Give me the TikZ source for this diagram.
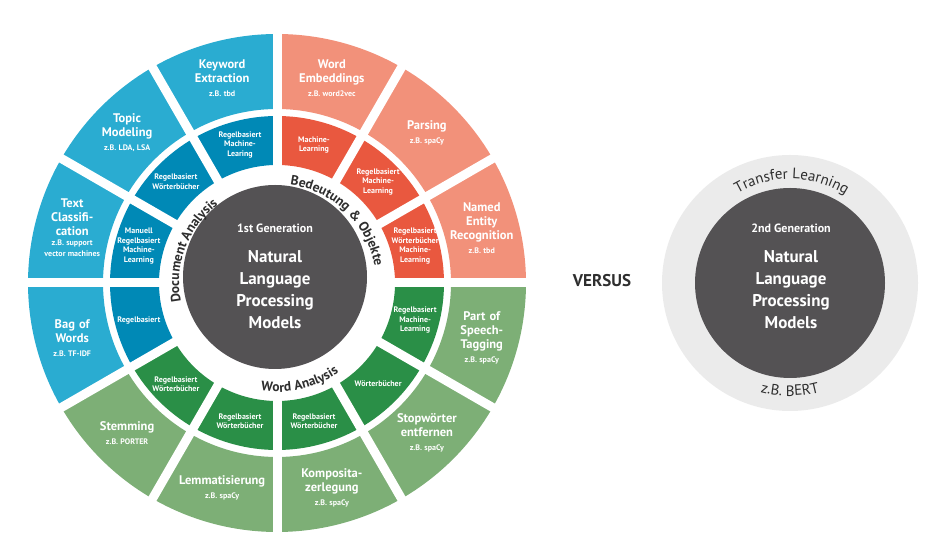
\documentclass[tikz,border=0pt]{standalone}
\usepackage{fontspec}
\setmainfont{PT Sans}
\usepackage{xcolor}
\usepackage{tikz}
\usetikzlibrary{decorations.text}
\definecolor{outdoc}{HTML}{2AACD1}
\definecolor{indoc}{HTML}{0089B6}
\definecolor{outsem}{HTML}{F2917A}
\definecolor{insem}{HTML}{E9583F}
\definecolor{outword}{HTML}{7DAF76}
\definecolor{inword}{HTML}{2A8F47}
\definecolor{corefill}{HTML}{545254}
\definecolor{halofill}{HTML}{EBEBEB}
\definecolor{arcgray}{HTML}{2E2E2E}
\tikzset{
  % --- ring cells: outer = tasks, inner = methods ---
  outerlbl/.style={text=white, align=center, text width=100pt, inner sep=0pt,
                   font=\fontsize{12.5}{14}\selectfont\bfseries},
  innerlbl/.style={text=white, align=center, text width=62pt, inner sep=0pt,
                   font=\fontsize{8}{9.5}\selectfont\bfseries},
  gapline/.style={draw=white, line width=9pt},
  % --- lettering that runs round a circle (size, weight, text) ---
  arclbl/.style n args={3}{decorate, decoration={text along path, text align=center,
                 text={|\fontsize{#1}{#1}\selectfont#2\color{arcgray}|#3}}},
  % --- the two model cores ---
  coretext/.style={text=white, align=center, inner sep=0pt,
                   font=\fontsize{17}{22}\selectfont\bfseries},
  genlbl/.style={text=white, inner sep=0pt, font=\fontsize{12}{14}\selectfont\bfseries},
  versuslbl/.style={text=arcgray, inner sep=0pt, font=\fontsize{17}{20}\selectfont\bfseries},
}
\newcommand{\zbline}{\par\fontsize{8}{10}\selectfont\spaceskip=0.24em plus 0.04em\relax}
% annular cell: colour, start angle, end angle, inner radius, outer radius
\newcommand{\ringcell}[5]{%
  \fill[#1] (#2:#4) arc[start angle=#2, end angle=#3, radius=#4pt]
    -- (#3:#5) arc[start angle=#3, end angle=#2, radius=#5pt] -- cycle;}

\begin{document}
\begin{tikzpicture}[x=1pt, y=1pt]
  \useasboundingbox (0,0) rectangle (950,559);

  % --- 1st generation wheel: 12 cells of 30 degrees ---
  \begin{scope}[shift={(277,276)}]
    \foreach \a/\co in {0/sem,30/sem,60/sem,90/doc,120/doc,150/doc,180/doc,
                        210/word,240/word,270/word,300/word,330/word}{
      \pgfmathtruncatemacro{\b}{\a+30}
      \ringcell{out\co}{\a}{\b}{174}{249}
      \ringcell{in\co}{\a}{\b}{118}{167}
    }
    \foreach \a in {0,30,...,330}
      \draw[gapline] (\a:114) -- (\a:256);
  \end{scope}
  \fill[corefill] (275,282) circle[radius=92pt];

  \begin{scope}[shift={(277,276)}]
    % --- tasks (outer ring) ---
    \foreach \a/\m/\s in {105/{Keyword\\Extraction}/{z.B. tbd},
                          135/{Topic\\Modeling}/{z.B. LDA, LSA},
                          165/{Text\\Classifi-\\cation}/{z.B. support\\[-3pt]vector machines},
                          195/{Bag of\\Words}/{z.B. TF-IDF},
                          225/{Stemming}/{z.B. PORTER},
                          255/{Lemmatisierung}/{z.B. spaCy},
                          285/{Komposita-\\zerlegung}/{z.B. spaCy},
                          315/{Stopwörter\\entfernen}/{z.B. spaCy},
                          345/{Part of\\Speech-\\Tagging}/{z.B. spaCy},
                          15/{Named\\Entity\\Recognition}/{z.B. tbd},
                          45/{Parsing}/{z.B. spaCy},
                          75/{Word\\Embeddings}/{z.B. word2vec}}
      \node[outerlbl] (o\a) at (\a:212) {\m\zbline\s};
    % --- methods (inner ring) ---
    \foreach \a/\m in {105/{Regelbasiert\\Machine-\\Learing},
                       135/{Regelbasiert\\Wörterbücher},
                       165/{Manuell\\Regelbasiert\\Machine-\\Learning},
                       195/{Regelbasiert},
                       225/{Regelbasiert\\Wörterbücher},
                       255/{Regelbasiert\\Wörterbücher},
                       285/{Regelbasiert\\Wörterbücher},
                       315/{Wörterbücher},
                       345/{Regelbasiert\\Machine-\\Learning},
                       15/{Regelbasiert\\Wörterbücher\\Machine-\\Learning},
                       45/{Regelbasiert\\Machine-\\Learning},
                       75/{Machine-\\Learning}}
      \node[innerlbl] (i\a) at (\a:143) {\m};
    % --- ring titles ---
    \path[arclbl={13.5}{\bfseries}{Document Analysis}] (205:98)
      arc[start angle=205, end angle=113, radius=98pt];
    \path[arclbl={13.5}{\bfseries}{Bedeutung {\&} Objekte}] (98:99)
      arc[start angle=98, end angle=-6, radius=99pt];
    \path[arclbl={13.5}{\bfseries}{Word Analysis}] (238:109)
      arc[start angle=238, end angle=328, radius=109pt];
  \end{scope}
  \node[genlbl] (gen1) at (275,331) {1st Generation};
  \node[coretext] (core1) at (275,269) {Natural\\Language\\Processing\\Models};

  \node[versuslbl] (versus) at (602,278) {VERSUS};

  % --- 2nd generation ---
  \fill[halofill] (790,276) circle[radius=128pt];
  \fill[corefill] (790,276) circle[radius=95pt];
  \begin{scope}[shift={(790,276)}]
    \path[arclbl={15}{\mdseries}{Transfer Learning}] (142:104)
      arc[start angle=142, end angle=36, radius=104pt];
    \path[arclbl={15}{\mdseries}{z.B. BERT}] (235:113)
      arc[start angle=235, end angle=305, radius=113pt];
  \end{scope}
  \node[genlbl] (gen2) at (791,331) {2nd Generation};
  \node[coretext] (core2) at (791,269) {Natural\\Language\\Processing\\Models};
\end{tikzpicture}
\end{document}
